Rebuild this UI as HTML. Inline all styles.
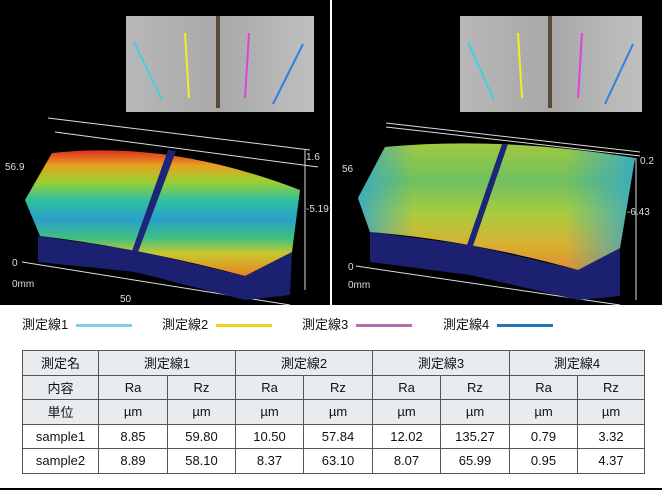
<!DOCTYPE html>
<html><head><meta charset="utf-8"><style>
body{margin:0;width:662px;height:490px;overflow:hidden;background:#fff;font-family:"Liberation Sans","Noto Sans CJK JP",sans-serif}
.top{position:absolute;left:0;top:0;width:662px;height:305px;background:#000}
.leg{position:absolute;top:314px;font-size:13px;color:#111}
.leg span{display:inline-block;width:56px;height:3px;vertical-align:middle;margin-left:8px}
table{position:absolute;left:22px;top:350px;border-collapse:collapse;font-size:13px;color:#111}
td{border:1px solid #555;text-align:center;height:23.5px;padding:0}
tr.h td{background:#e9ecef}
</style></head><body>
<div class="top">
<svg width="662" height="305">
<defs>
<linearGradient id="g1" x1="0" y1="0" x2="0" y2="1">
<stop offset="0" stop-color="#e03020"/><stop offset="0.12" stop-color="#e8a020"/><stop offset="0.25" stop-color="#9ad030"/><stop offset="0.4" stop-color="#30c0a0"/><stop offset="0.55" stop-color="#2aa0c8"/><stop offset="0.7" stop-color="#40c080"/><stop offset="0.82" stop-color="#c8c830"/><stop offset="1" stop-color="#e88020"/></linearGradient>
<linearGradient id="g2" x1="0" y1="0" x2="0" y2="1">
<stop offset="0" stop-color="#a0c840"/><stop offset="0.3" stop-color="#70c060"/><stop offset="0.55" stop-color="#a8cc40"/><stop offset="0.8" stop-color="#d8b030"/><stop offset="1" stop-color="#e09030"/></linearGradient>
<linearGradient id="g2h" x1="0" y1="0" x2="1" y2="0">
<stop offset="0" stop-color="#30a8d0" stop-opacity="0.85"/><stop offset="0.2" stop-color="#30a8d0" stop-opacity="0"/><stop offset="0.75" stop-color="#30a8d0" stop-opacity="0"/><stop offset="1" stop-color="#30a8d0" stop-opacity="0.85"/></linearGradient>
<linearGradient id="ph" x1="0" y1="0" x2="1" y2="0"><stop offset="0" stop-color="#b8b8b8"/><stop offset="0.5" stop-color="#a8a8a8"/><stop offset="1" stop-color="#c0c0c0"/></linearGradient>
</defs>
<line x1="331" y1="0" x2="331" y2="305" stroke="#fff" stroke-width="2"/>
<!-- left -->
<rect x="126" y="16" width="188" height="96" fill="url(#ph)"/>
<rect x="216" y="16" width="4" height="92" fill="#5a4a3a"/>
<line x1="134" y1="42" x2="162" y2="100" stroke="#40d0e0" stroke-width="2"/>
<line x1="185" y1="33" x2="189" y2="98" stroke="#f0f020" stroke-width="2"/>
<line x1="249" y1="33" x2="245" y2="98" stroke="#e040e0" stroke-width="2"/>
<line x1="303" y1="44" x2="273" y2="104" stroke="#3080e0" stroke-width="2"/>
<line x1="48" y1="118" x2="310" y2="150" stroke="#ddd"/>
<line x1="55" y1="132" x2="318" y2="167" stroke="#ddd"/>
<line x1="305" y1="150" x2="305" y2="290" stroke="#ddd"/>
<line x1="22" y1="262" x2="290" y2="305" stroke="#ddd"/>
<path d="M38,236 L38,262 L135,272 L245,300 L290,295 L292,252 L245,276 L135,250 Z" fill="#1c2070"/>
<path d="M52,153 Q170,140 300,190 L292,252 L245,276 Q140,248 40,236 L25,200 Z" fill="url(#g1)"/>
<path d="M168,150 L176,151 L138,252 L132,251 Z" fill="#1c2578"/>
<text x="5" y="170" fill="#ddd" font-size="10">56.9</text>
<text x="306" y="160" fill="#ddd" font-size="10">1.6</text>
<text x="306" y="212" fill="#ddd" font-size="10">-5.19</text>
<text x="12" y="266" fill="#ddd" font-size="10">0</text>
<text x="12" y="287" fill="#ddd" font-size="10">0mm</text>
<text x="120" y="302" fill="#ddd" font-size="10">50</text>
<!-- right -->
<rect x="460" y="16" width="182" height="96" fill="url(#ph)"/>
<rect x="548" y="16" width="4" height="92" fill="#5a4a3a"/>
<line x1="468" y1="42" x2="494" y2="100" stroke="#40d0e0" stroke-width="2"/>
<line x1="518" y1="33" x2="522" y2="98" stroke="#f0f020" stroke-width="2"/>
<line x1="582" y1="33" x2="578" y2="98" stroke="#e040e0" stroke-width="2"/>
<line x1="633" y1="44" x2="605" y2="104" stroke="#3080e0" stroke-width="2"/>
<line x1="386" y1="123" x2="640" y2="152" stroke="#ddd"/>
<line x1="386" y1="127" x2="640" y2="156" stroke="#ddd"/>
<line x1="636" y1="158" x2="636" y2="300" stroke="#ddd"/>
<line x1="356" y1="266" x2="620" y2="305" stroke="#ddd"/>
<path d="M370,232 L370,262 L470,275 L578,300 L620,296 L620,248 L578,270 L470,245 Z" fill="#1c2070"/>
<path d="M385,147 Q500,136 635,158 L620,248 L578,270 Q470,240 370,232 L358,198 Z" fill="url(#g2)"/>
<path d="M385,147 Q500,136 635,158 L620,248 L578,270 Q470,240 370,232 L358,198 Z" fill="url(#g2h)"/>
<path d="M502,144 L508,144 L473,246 L467,245 Z" fill="#1c2578"/>
<text x="342" y="172" fill="#ddd" font-size="10">56</text>
<text x="640" y="164" fill="#ddd" font-size="10">0.2</text>
<text x="627" y="215" fill="#ddd" font-size="10">-6.43</text>
<text x="348" y="270" fill="#ddd" font-size="10">0</text>
<text x="348" y="288" fill="#ddd" font-size="10">0mm</text>
</svg>
</div>
<div class="leg" style="left:22px">測定線1<span style="background:#7ccfe8"></span></div>
<div class="leg" style="left:162px">測定線2<span style="background:#f5d020"></span></div>
<div class="leg" style="left:302px">測定線3<span style="background:#b070a8"></span></div>
<div class="leg" style="left:443px">測定線4<span style="background:#2078b8"></span></div>
<table>
<colgroup><col style="width:76px"><col style="width:69px"><col style="width:68px"><col style="width:68px"><col style="width:69px"><col style="width:68px"><col style="width:69px"><col style="width:68px"><col style="width:67px"></colgroup>
<tr class="h"><td>測定名</td><td colspan="2">測定線1</td><td colspan="2">測定線2</td><td colspan="2">測定線3</td><td colspan="2">測定線4</td></tr>
<tr class="h"><td>内容</td><td>Ra</td><td>Rz</td><td>Ra</td><td>Rz</td><td>Ra</td><td>Rz</td><td>Ra</td><td>Rz</td></tr>
<tr class="h"><td>単位</td><td>µm</td><td>µm</td><td>µm</td><td>µm</td><td>µm</td><td>µm</td><td>µm</td><td>µm</td></tr>
<tr><td>sample1</td><td>8.85</td><td>59.80</td><td>10.50</td><td>57.84</td><td>12.02</td><td>135.27</td><td>0.79</td><td>3.32</td></tr>
<tr><td>sample2</td><td>8.89</td><td>58.10</td><td>8.37</td><td>63.10</td><td>8.07</td><td>65.99</td><td>0.95</td><td>4.37</td></tr>
</table>
<div style="position:absolute;left:0;top:488px;width:662px;height:2px;background:#000"></div>
</body></html>
